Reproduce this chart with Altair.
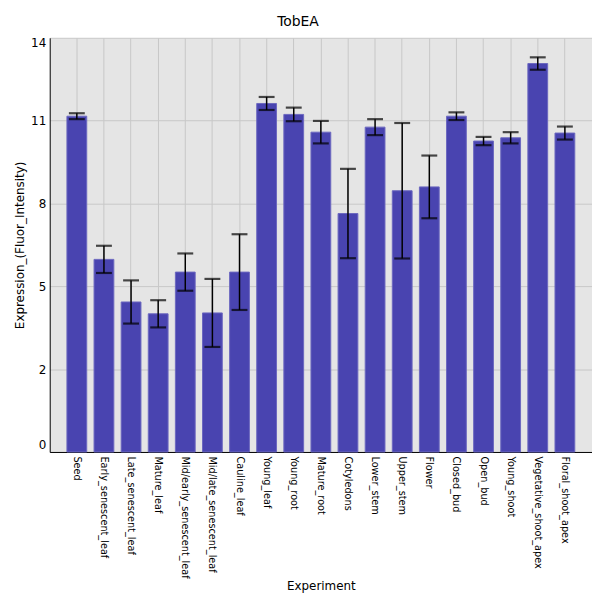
import altair as alt
import pandas as pd

names = ["Seed", "Early_senescent_leaf", "Late_senescent_leaf", "Mature_leaf",
         "Mid/early_senescent_leaf", "Mid/late_senescent_leaf", "Cauline_leaf",
         "Young_leaf", "Young_root", "Mature_root", "Cotyledons", "Lower_stem",
         "Upper_stem", "Flower", "Closed_bud", "Open_bud", "Young_shoot",
         "Vegetative_shoot_apex", "Floral_shoot_apex"]
means = [11.35, 6.51, 5.07, 4.67, 6.08, 4.70, 6.08, 11.78, 11.41, 10.81,
         8.06, 10.98, 8.83, 8.96, 11.35, 10.51, 10.62, 13.13, 10.78]
errs = [0.10, 0.46, 0.73, 0.46, 0.63, 1.15, 1.28, 0.22, 0.23, 0.38,
        1.51, 0.27, 2.29, 1.06, 0.13, 0.14, 0.19, 0.21, 0.22]
y_ticks = [0, 2.8, 5.6, 8.4, 11.2, 14]

df = pd.DataFrame({"Experiment": names, "mean": means, "err": errs})

FONT = "DejaVu Sans"
YTITLE = "Expression_(Fluor_Intensity)"

base = alt.Chart(df).transform_calculate(
    lo="datum.mean - datum.err", hi="datum.mean + datum.err"
)

xenc = alt.X(
    "Experiment:N",
    sort=names,
    title="Experiment",
    scale=alt.Scale(paddingInner=0.27, paddingOuter=0.635),
    axis=alt.Axis(labelAngle=90, ticks=False, labelPadding=4, grid=True,
                  bandPosition=0.5, labelFontSize=9.8, titlePadding=2,
                  labelLimit=300),
)
yscale = alt.Scale(domain=[0, 14], nice=False, zero=True)

bars = base.mark_bar(color="#4944b0", stroke="#6c68c0", strokeWidth=1).encode(
    x=xenc,
    y=alt.Y("mean:Q", scale=yscale, title=YTITLE,
            axis=alt.Axis(values=y_ticks, labelExpr="floor(datum.value)",
                          ticks=False, labelPadding=4, labelFlush=True,
                          labelFontSize=12, grid=True)),
)

rule = base.mark_rule(color="black", strokeWidth=1.5).encode(
    x=alt.X("Experiment:N", sort=names, title="Experiment"),
    y=alt.Y("lo:Q", scale=yscale, title=YTITLE),
    y2=alt.Y2("hi:Q", title=YTITLE),
)
cap_lo = base.mark_tick(color="black", size=16, thickness=2.2).encode(
    x=alt.X("Experiment:N", sort=names, title="Experiment"),
    y=alt.Y("lo:Q", scale=yscale, title=YTITLE),
)
cap_hi = base.mark_tick(color="black", size=16, thickness=2.2).encode(
    x=alt.X("Experiment:N", sort=names, title="Experiment"),
    y=alt.Y("hi:Q", scale=yscale, title=YTITLE),
)

chart = (
    alt.layer(bars, rule, cap_lo, cap_hi)
    .properties(
        width=546, height=417,
        title=alt.TitleParams("TobEA", fontSize=14, font=FONT, fontWeight="normal",
                              color="black", anchor="middle", offset=8, dx=-23),
        autosize=alt.AutoSizeParams(type="none"),
        padding={"left": 42, "top": 28, "right": 0, "bottom": 140},
        background="white",
    )
    .configure_axis(
        labelFont=FONT, titleFont=FONT, labelColor="black", titleColor="black",
        titleFontSize=12, titleFontWeight="normal", domainColor="black",
        domainWidth=1, gridColor="#c8c8c8", gridWidth=1,
    )
    .configure_view(fill="#e5e5e5", stroke="transparent")
)

chart.save("out.html", embed_options={"renderer": "svg", "actions": False})
